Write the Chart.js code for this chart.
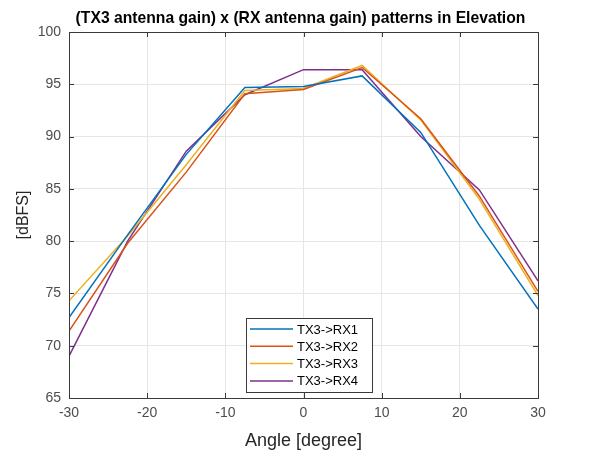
<!DOCTYPE html>
<html>
<head>
<meta charset="utf-8">
<script src="https://cdn.jsdelivr.net/npm/chart.js@4.4.1/dist/chart.umd.min.js"></script>
<style>
html,body{margin:0;padding:0;background:#fff;}
#wrap{width:589px;height:452px;position:relative;}
</style>
</head>
<body>
<div id="wrap"><canvas id="c" width="589" height="452"></canvas></div>
<script>
const angles = [-30, -22.5, -15, -7.5, 0, 7.5, 15, 22.5, 30];
const rx1 = [72.7, 80.6, 88.3, 94.7, 94.8, 95.8, 90.4, 81.5, 73.5];
const rx2 = [71.4, 79.8, 86.6, 94.1, 94.5, 96.6, 91.7, 84.3, 75.2];
const rx3 = [74.3, 80.5, 87.3, 94.4, 94.6, 96.8, 91.6, 84.0, 74.8];
const rx4 = [69.0, 80.0, 88.6, 94.0, 96.4, 96.4, 90.0, 84.9, 76.2];
const seriesLabels = ['TX3->RX1', 'TX3->RX2', 'TX3->RX3', 'TX3->RX4'];
const xTicks = [-30, -20, -10, 0, 10, 20, 30];
const yTicks = [65, 70, 75, 80, 85, 90, 95, 100];
const titleText = '(TX3 antenna gain) x (RX antenna gain) patterns in Elevation';
const colors = ['#0072BD', '#D95319', '#EDB120', '#7E2F8E'];

const mk = (vals) => angles.map((a, i) => ({x: a, y: vals[i]}));
const datasets = [rx1, rx2, rx3, rx4].map((v, i) => ({
  label: seriesLabels[i],
  data: mk(v),
  borderColor: colors[i],
  backgroundColor: colors[i],
  borderWidth: 1.5,
  pointRadius: 0,
  tension: 0,
  fill: false
}));

const frame = {
  id: 'frame',
  afterDraw(chart) {
    const {ctx, chartArea: a} = chart;
    ctx.save();
    ctx.strokeStyle = '#3a3a3a';
    ctx.lineWidth = 1;
    ctx.strokeRect(Math.round(a.left) + 0.5, Math.round(a.top) + 0.5, Math.round(a.right - a.left), Math.round(a.bottom - a.top));
    const xs = chart.scales.x, ys = chart.scales.y;
    ctx.beginPath();
    xTicks.forEach(t => {
      const px = Math.round(xs.getPixelForValue(t)) + 0.5;
      ctx.moveTo(px, a.bottom); ctx.lineTo(px, a.bottom - 5);
      ctx.moveTo(px, a.top); ctx.lineTo(px, a.top + 5);
    });
    yTicks.forEach(t => {
      const py = Math.round(ys.getPixelForValue(t)) + 0.5;
      ctx.moveTo(a.left, py); ctx.lineTo(a.left + 5, py);
      ctx.moveTo(a.right, py); ctx.lineTo(a.right - 5, py);
    });
    ctx.stroke();
    // title
    ctx.fillStyle = '#000';
    ctx.font = 'bold 15.7px "Liberation Sans", Arial, sans-serif';
    ctx.textAlign = 'center';
    ctx.textBaseline = 'middle';
    ctx.fillText(titleText, (a.left + a.right) / 2 - 3, 19);
    // legend
    const lx = 246, ly = 318, lw = 126, lh = 74;
    ctx.fillStyle = '#fff';
    ctx.fillRect(lx, ly, lw, lh);
    ctx.strokeStyle = '#3a3a3a';
    ctx.strokeRect(lx + 0.5, ly + 0.5, lw, lh);
    ctx.font = '13px "Liberation Sans", Arial, sans-serif';
    ctx.textAlign = 'left';
    chart.data.datasets.forEach((d, i) => {
      const yy = ly + 11 + i * 17.3;
      ctx.strokeStyle = d.borderColor;
      ctx.lineWidth = 1.5;
      ctx.beginPath();
      ctx.moveTo(lx + 4, yy); ctx.lineTo(lx + 47, yy);
      ctx.stroke();
      ctx.fillStyle = '#000';
      ctx.fillText(d.label, lx + 51, yy + 1);
    });
    ctx.restore();
  }
};

new Chart(document.getElementById('c'), {
  type: 'line',
  data: {datasets},
  options: {
    responsive: false,
    animation: false,
    devicePixelRatio: 1,
    layout: {padding: {left: 0, right: 51, top: 32, bottom: 0}},
    plugins: {legend: {display: false}, title: {display: false}, tooltip: {enabled: false}},
    scales: {
      x: {
        type: 'linear', min: -30, max: 30,
        afterBuildTicks: s => { s.ticks = xTicks.map(v => ({value: v})); },
        afterFit: s => { s.height = 54; },
        grid: {color: '#e6e6e6', drawTicks: false, drawOnChartArea: true},
        border: {display: false},
        ticks: {color: '#4d4d4d', font: {size: 14, family: '"Liberation Sans", Arial, sans-serif'}, padding: 7, maxRotation: 0},
        title: {display: true, text: 'Angle [degree]', color: '#262626', font: {size: 18, family: '"Liberation Sans", Arial, sans-serif'}, padding: {top: 0, bottom: 0}}
      },
      y: {
        type: 'linear', min: 65, max: 100,
        afterBuildTicks: s => { s.ticks = yTicks.map(v => ({value: v})); },
        afterFit: s => { s.width = 69; },
        grid: {color: '#e6e6e6', drawTicks: false},
        border: {display: false},
        ticks: {color: '#4d4d4d', font: {size: 14, family: '"Liberation Sans", Arial, sans-serif'}, padding: 8},
        title: {display: true, text: '[dBFS]', color: '#262626', font: {size: 16, family: '"Liberation Sans", Arial, sans-serif'}, padding: {top: 14, bottom: 4}}
      }
    }
  },
  plugins: [frame]
});
</script>
</body>
</html>
